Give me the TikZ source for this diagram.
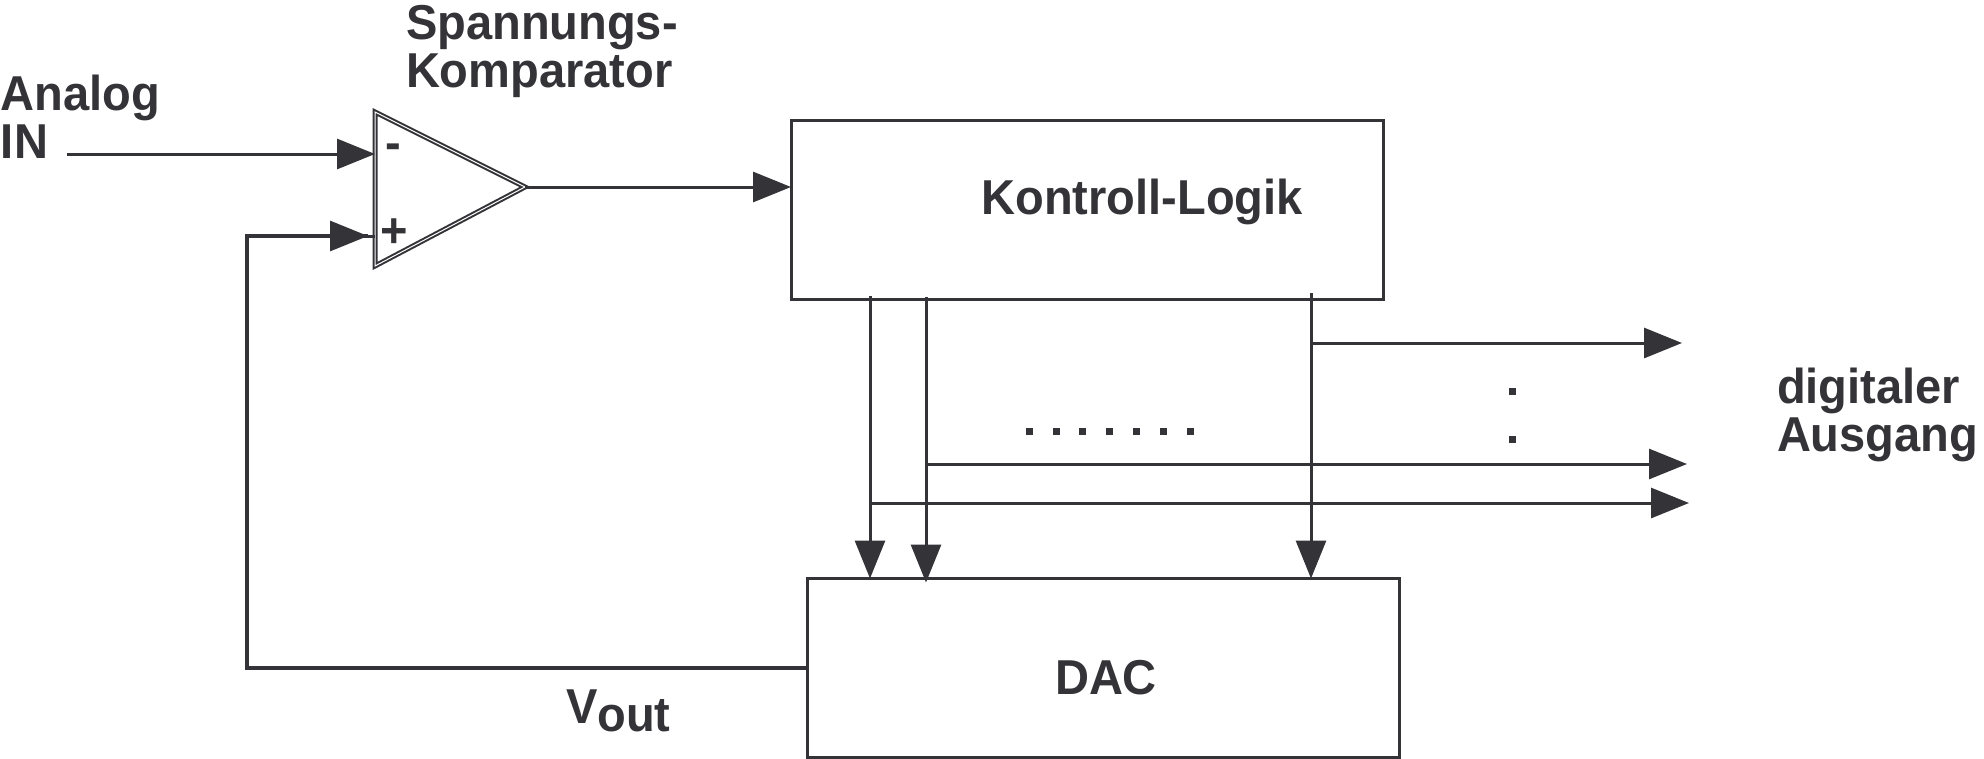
\documentclass[tikz,border=0pt]{standalone}
\usepackage{fontspec}
\setmainfont{Liberation Sans}[FakeStretch=0.96]
\usetikzlibrary{arrows.meta}
\definecolor{ink}{RGB}{51,51,56}
\begin{document}
\begin{tikzpicture}[x=1pt,y=-1pt,
  every node/.style={inner sep=0pt,outer sep=0pt,text=ink,font=\fontsize{49}{48}\selectfont\bfseries},
  wire/.style={draw=ink,line width=3pt},
  fbwire/.style={draw=ink,line width=4.6pt},
  arr/.style={-{Triangle[length=38pt,width=30pt]}},
  blockbox/.style={draw=ink,line width=3pt,fill=none,minimum width=592pt,minimum height=179pt},
  amp/.style={draw=ink,line width=2pt,double=white,double distance=1pt,line join=miter},
  dotsq/.style={fill=ink,minimum width=7pt,minimum height=7pt}]
\useasboundingbox (0,0) rectangle (1984,758);

% labels
\node[anchor=base west] (analog) at (1,110) {Analog};
\node[anchor=base west] (in) at (1,158) {IN};
\node[anchor=base west] (spann) at (406,39) {Spannungs-};
\node[anchor=base west] (kompar) at (406,87) {Komparator};
\node[anchor=base west] (digi) at (1777,403) {digitaler};
\node[anchor=base west] (ausg) at (1777,451) {Ausgang};

% boxes
\node[blockbox] (kl) at (1087,210) {};
\node[anchor=base] (kltext) at (1142,214) {Kontroll-Logik};
\node[blockbox] (dac) at (1103,668) {};
\node[anchor=base] (dactext) at (1106,694) {DAC};

% comparator
\coordinate (tl) at (375,112);
\coordinate (bl) at (375,266);
\coordinate (tip) at (525,187);
\draw[amp] (tl) -- (tip) -- (bl) -- cycle;
\node (minus) at (393,152) {-};
\node (plus) at (394,233) {+};
\coordinate (inm) at (375,154);
\coordinate (inp) at (375,236);

% analog in
\coordinate (ain) at (67,154);
\draw[wire,arr] (ain) -- (inm);

% comparator -> control logic
\draw[wire,arr] (tip) -- (tip -| kl.west);

% feedback
\coordinate (fbA) at (247,668);
\coordinate (fbB) at (247,236);
\coordinate (fbC) at (368,236);
\draw[fbwire,line join=miter] (dac.west |- fbA) -- (fbA) -- (fbB) -- (fbC);
\draw[wire,arr] (fbB) -- (fbC);
\draw[wire] (fbC) -- (inp);
\node[anchor=base west] (vout) at (566,723) {V\raisebox{-8pt}{out}};

% control lines down to DAC
\coordinate (v1) at (870,296);
\coordinate (v2) at (926,297);
\coordinate (v3) at (1311,293);
\draw[wire,arr] (v1) -- (v1 |- dac.north);
\draw[wire,arr] (v2) -- ([yshift=-4pt]v2 |- dac.north);
\draw[wire,arr] (v3) -- (v3 |- dac.north);

% digital outputs
\coordinate (o1) at (1311,343);
\coordinate (o2) at (926,464);
\coordinate (o3) at (870,503);
\coordinate (e1) at (1682,343);
\coordinate (e2) at (1687,464);
\coordinate (e3) at (1689,503);
\draw[wire,arr] (o1) -- (e1);
\draw[wire,arr] (o2) -- (e2);
\draw[wire,arr] (o3) -- (e3);

% dots
\foreach \i/\x in {1/1029,2/1056,3/1082,4/1109,5/1136,6/1163,7/1190}
  \node[dotsq] (d\i) at (\x,431) {};
\node[dotsq] (c1) at (1512,391) {};
\node[dotsq] (c2) at (1512,439) {};
\end{tikzpicture}
\end{document}
